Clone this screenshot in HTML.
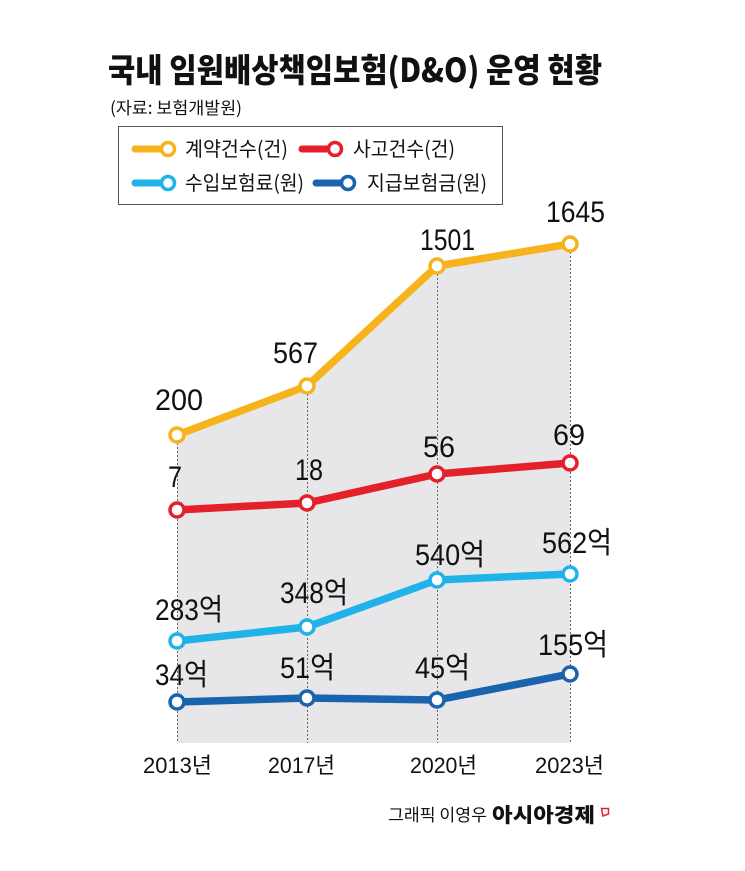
<!DOCTYPE html>
<html><head><meta charset="utf-8"><style>
html,body{margin:0;padding:0;background:#fff;}
svg{display:block;}
text{font-family:"Liberation Sans","Noto Sans CJK KR",sans-serif;fill:#111;}
.k{font-family:"Noto Sans CJK KR","Liberation Sans",sans-serif;}
</style></head><body>
<svg width="745" height="871" viewBox="0 0 745 871" xmlns="http://www.w3.org/2000/svg">
<rect width="745" height="871" fill="#fff"/>
<!-- title -->
<text x="108" y="82" font-size="33" font-weight="bold" textLength="494" lengthAdjust="spacingAndGlyphs" class="k" style="font-family:'Noto Sans CJK KR',sans-serif;font-weight:900">국내 임원배상책임보험(D&amp;O) 운영 현황</text>
<text x="110" y="114" font-size="17" textLength="132" lengthAdjust="spacingAndGlyphs" class="k">(자료: 보험개발원)</text>
<!-- legend -->
<rect x="118.5" y="126.5" width="384" height="78" fill="#fff" stroke="#555" stroke-width="1"/>
<g stroke-linecap="round">
<line x1="135" y1="149" x2="166" y2="149" stroke="#f6b31b" stroke-width="7"/>
<circle cx="168" cy="149" r="6.5" fill="#fff" stroke="#f6b31b" stroke-width="3.5"/>
<line x1="302" y1="149" x2="333" y2="149" stroke="#e4202b" stroke-width="7"/>
<circle cx="335" cy="149" r="6.5" fill="#fff" stroke="#e4202b" stroke-width="3.5"/>
<line x1="135" y1="183" x2="166" y2="183" stroke="#1fb3ea" stroke-width="7"/>
<circle cx="168" cy="183" r="6.5" fill="#fff" stroke="#1fb3ea" stroke-width="3.5"/>
<line x1="316" y1="183" x2="346" y2="183" stroke="#1a64ae" stroke-width="7"/>
<circle cx="348" cy="183" r="6.5" fill="#fff" stroke="#1a64ae" stroke-width="3.5"/>
</g>
<text x="185" y="156" font-size="20" textLength="103" lengthAdjust="spacingAndGlyphs" class="k">계약건수(건)</text>
<text x="353" y="156" font-size="20" textLength="102" lengthAdjust="spacingAndGlyphs" class="k">사고건수(건)</text>
<text x="185" y="190" font-size="20" textLength="119" lengthAdjust="spacingAndGlyphs" class="k">수입보험료(원)</text>
<text x="367" y="190" font-size="20" textLength="120" lengthAdjust="spacingAndGlyphs" class="k">지급보험금(원)</text>
<!-- fill -->
<polygon points="177,435 307,386 437,266 570,244 570,743 177,743" fill="#e7e7ea"/>
<!-- dotted verticals -->
<g stroke="#666" stroke-width="1" stroke-dasharray="2,2">
<line x1="177.5" y1="435" x2="177.5" y2="743"/>
<line x1="307.5" y1="386" x2="307.5" y2="743"/>
<line x1="437.5" y1="266" x2="437.5" y2="743"/>
<line x1="570.5" y1="244" x2="570.5" y2="743"/>
</g>
<!-- series -->
<g fill="none" stroke-width="7.5" stroke-linejoin="round" stroke-linecap="round">
<polyline points="177,435 307,386 437,266 570,244" stroke="#f6b31b"/>
<polyline points="177,510 307,503 437,474 570,463" stroke="#e4202b"/>
<polyline points="177,641 307,627 437,580 570,574" stroke="#1fb3ea"/>
<polyline points="177,702 307,698 437,700 570,674" stroke="#1a64ae"/>
</g>
<g fill="#fff" stroke-width="3.5">
<g stroke="#f6b31b"><circle cx="177" cy="435" r="7"/><circle cx="307" cy="386" r="7"/><circle cx="437" cy="266" r="7"/><circle cx="570" cy="244" r="7"/></g>
<g stroke="#e4202b"><circle cx="177" cy="510" r="7"/><circle cx="307" cy="503" r="7"/><circle cx="437" cy="474" r="7"/><circle cx="570" cy="463" r="7"/></g>
<g stroke="#1fb3ea"><circle cx="177" cy="641" r="7"/><circle cx="307" cy="627" r="7"/><circle cx="437" cy="580" r="7"/><circle cx="570" cy="574" r="7"/></g>
<g stroke="#1a64ae"><circle cx="177" cy="702" r="7"/><circle cx="307" cy="698" r="7"/><circle cx="437" cy="700" r="7"/><circle cx="570" cy="674" r="7"/></g>
</g>
<!-- value labels -->
<g font-size="30">
<text x="155" y="410" textLength="48" lengthAdjust="spacingAndGlyphs">200</text>
<text x="273" y="363" textLength="45" lengthAdjust="spacingAndGlyphs">567</text>
<text x="420" y="250" textLength="55" lengthAdjust="spacingAndGlyphs">1501</text>
<text x="546" y="222" textLength="59" lengthAdjust="spacingAndGlyphs">1645</text>
<text x="168" y="487" textLength="14" lengthAdjust="spacingAndGlyphs">7</text>
<text x="295" y="480" textLength="28" lengthAdjust="spacingAndGlyphs">18</text>
<text x="423" y="457" textLength="32" lengthAdjust="spacingAndGlyphs">56</text>
<text x="553" y="445" textLength="32" lengthAdjust="spacingAndGlyphs">69</text>
<text x="155" y="620" textLength="68" lengthAdjust="spacingAndGlyphs">283억</text>
<text x="280" y="603" textLength="68" lengthAdjust="spacingAndGlyphs">348억</text>
<text x="415" y="565" textLength="70" lengthAdjust="spacingAndGlyphs">540억</text>
<text x="542" y="553" textLength="70" lengthAdjust="spacingAndGlyphs">562억</text>
<text x="155" y="685" textLength="53" lengthAdjust="spacingAndGlyphs">34억</text>
<text x="280" y="678" textLength="55" lengthAdjust="spacingAndGlyphs">51억</text>
<text x="415" y="678" textLength="55" lengthAdjust="spacingAndGlyphs">45억</text>
<text x="538" y="655" textLength="70" lengthAdjust="spacingAndGlyphs">155억</text>
</g>
<!-- x labels -->
<g font-size="22" fill="#222">
<text x="143" y="773" textLength="69" lengthAdjust="spacingAndGlyphs">2013년</text>
<text x="268" y="773" textLength="67" lengthAdjust="spacingAndGlyphs">2017년</text>
<text x="410" y="773" textLength="67" lengthAdjust="spacingAndGlyphs">2020년</text>
<text x="535" y="773" textLength="69" lengthAdjust="spacingAndGlyphs">2023년</text>
</g>
<!-- footer -->
<text x="388" y="821" font-size="17" textLength="99" lengthAdjust="spacingAndGlyphs" class="k" fill="#222">그래픽 이영우</text>
<text x="492" y="822" font-size="20" font-weight="bold" textLength="103" lengthAdjust="spacingAndGlyphs" class="k" style="font-weight:900">아시아경제</text>
<path d="M601.5,808.5 L608.5,808.5 L608.5,814 L603,816 Z" fill="none" stroke="#e4202b" stroke-width="1.5"/>
</svg>
</body></html>
